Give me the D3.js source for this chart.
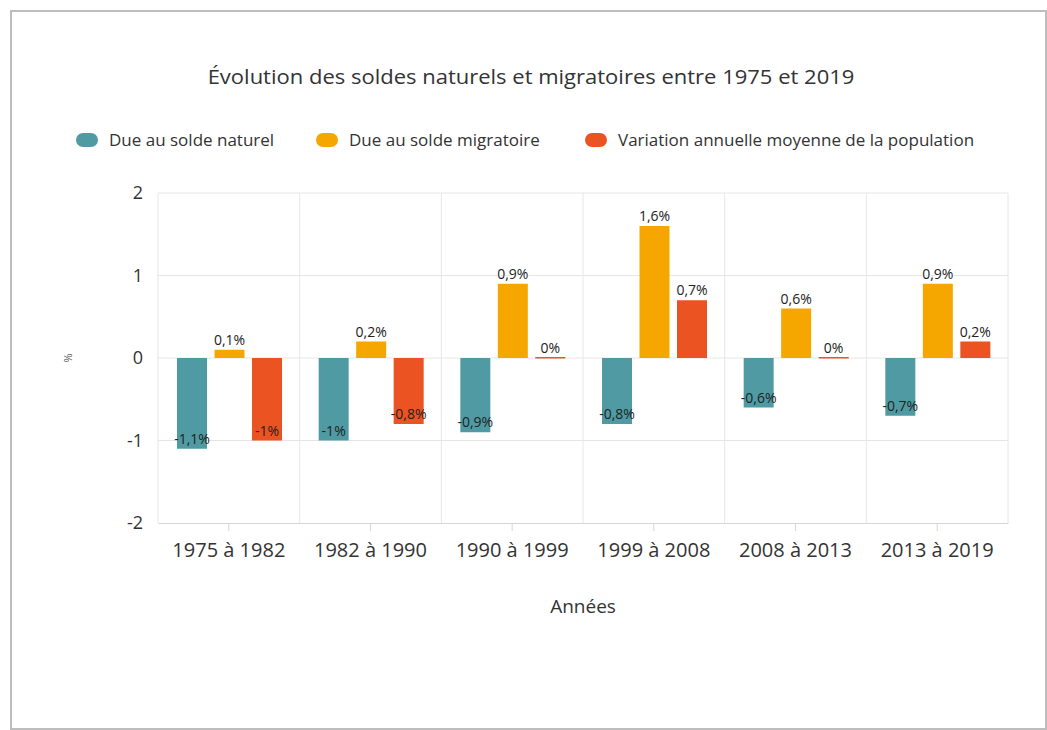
<!DOCTYPE html>
<html lang="fr">
<head>
<meta charset="utf-8">
<title>Soldes naturels et migratoires</title>
<script src="https://d3js.org/d3.v7.min.js"></script>
<style>
  body { margin: 0; background: #fff; }
  svg { font-family: "Open Sans", sans-serif; display: block; }
</style>
</head>
<body>
<script>
// Données
const periodes = ["1975 à 1982", "1982 à 1990", "1990 à 1999", "1999 à 2008", "2008 à 2013", "2013 à 2019"];
const soldeNaturel = [-1.1, -1, -0.9, -0.8, -0.6, -0.7];
const soldeMigratoire = [0.1, 0.2, 0.9, 1.6, 0.6, 0.9];
const variationAnnuelle = [-1, -0.8, 0, 0.7, 0, 0.2];
const seriesNames = ["Due au solde naturel", "Due au solde migratoire", "Variation annuelle moyenne de la population"];
const seriesColors = ["#4f9aa3", "#f5a700", "#ec5323"];
const yTicks = [-2, -1, 0, 1, 2];

const width = 1047, height = 730;
const marginLeft = 158, marginRight = 39, marginTop = 193, plotBottom = 523;

const seriesValues = [soldeNaturel, soldeMigratoire, variationAnnuelle];
const data = periodes.map((p, i) => ({
  periode: p,
  values: seriesNames.map((s, j) => ({ serie: s, idx: j, value: seriesValues[j][i] }))
}));

const svg = d3.select("body").append("svg")
  .attr("width", width)
  .attr("height", height);

// cadre
svg.append("rect")
  .attr("x", 11).attr("y", 11)
  .attr("width", width - 12).attr("height", height - 12)
  .attr("fill", "none")
  .attr("stroke", "#bdbdbd")
  .attr("stroke-width", 2);

const x = d3.scaleBand()
  .domain(periodes)
  .range([marginLeft, width - marginRight]);

const x1 = d3.scaleBand()
  .domain(seriesNames)
  .range([19, 124])
  .paddingInner(0.2);

const y = d3.scaleLinear()
  .domain([-2, 2])
  .range([plotBottom, marginTop]);

const color = d3.scaleOrdinal().domain(seriesNames).range(seriesColors);

// grille horizontale
svg.append("g")
  .selectAll("line")
  .data(yTicks.filter(d => d !== -2))
  .join("line")
  .attr("x1", marginLeft).attr("x2", width - marginRight)
  .attr("y1", d => y(d)).attr("y2", d => y(d))
  .attr("stroke", "#e6e6e6");

// grille verticale (limites des catégories)
const bounds = periodes.map(p => x(p)).concat([width - marginRight]);
svg.append("g")
  .selectAll("line")
  .data(bounds)
  .join("line")
  .attr("x1", d => d).attr("x2", d => d)
  .attr("y1", marginTop).attr("y2", plotBottom)
  .attr("stroke", "#e6e6e6");

// axe Y
svg.append("g")
  .selectAll("text")
  .data(yTicks)
  .join("text")
  .attr("x", 143)
  .attr("y", d => y(d))
  .attr("dy", "0.35em")
  .attr("text-anchor", "end")
  .attr("fill", "#333")
  .style("font-size", "18px")
  .text(d => d);

svg.append("text")
  .attr("transform", `translate(72,${y(0)}) rotate(-90)`)
  .attr("text-anchor", "middle")
  .attr("fill", "#555")
  .style("font-size", "11px")
  .text("%");

// axe X
const xAxis = svg.append("g")
  .attr("transform", `translate(0,${plotBottom})`)
  .call(d3.axisBottom(x).tickSize(8).tickSizeOuter(0).tickPadding(12));
xAxis.select(".domain").attr("stroke", "#d6d6d6");
xAxis.selectAll(".tick line").attr("stroke", "#d6d6d6");
xAxis.selectAll(".tick text")
  .attr("fill", "#333")
  .style("font-size", "20px")
  .style("font-family", "'Open Sans', sans-serif");

svg.append("text")
  .attr("x", (marginLeft + width - marginRight) / 2)
  .attr("y", 613)
  .attr("text-anchor", "middle")
  .attr("fill", "#333")
  .style("font-size", "19px")
  .text("Années");

// barres
const groups = svg.append("g")
  .selectAll("g")
  .data(data)
  .join("g")
  .attr("transform", d => `translate(${x(d.periode)},0)`);

groups.selectAll("rect")
  .data(d => d.values)
  .join("rect")
  .attr("x", d => x1(d.serie))
  .attr("width", x1.bandwidth())
  .attr("y", d => d.value === 0 ? y(0) - 1 : Math.min(y(0), y(d.value)))
  .attr("height", d => d.value === 0 ? 1.5 : Math.abs(y(d.value) - y(0)))
  .attr("fill", d => color(d.serie));

const fmt = v => String(v).replace(".", ",") + "%";

groups.selectAll("text")
  .data(d => d.values)
  .join("text")
  .attr("x", d => x1(d.serie) + x1.bandwidth() / 2)
  .attr("y", d => d.value >= 0 ? y(d.value) - 5 : y(d.value) - 5)
  .attr("text-anchor", "middle")
  .attr("fill", "#222")
  .attr("stroke", d => d.value >= 0 ? "#fff" : "none")
  .attr("stroke-width", 2)
  .attr("paint-order", "stroke")
  .style("font-size", "14px")
  .text(d => fmt(d.value));

// titre
svg.append("text")
  .attr("transform", "translate(531,84) scale(1.1,1)")
  .attr("text-anchor", "middle")
  .attr("fill", "#333")
  .style("font-size", "20px")
  .text("Évolution des soldes naturels et migratoires entre 1975 et 2019");

// légende
const legendX = [76, 316, 585];
const legend = svg.append("g")
  .selectAll("g")
  .data(seriesNames)
  .join("g")
  .attr("transform", (d, i) => `translate(${legendX[i]},133)`);

legend.append("rect")
  .attr("width", 22).attr("height", 14)
  .attr("rx", 7)
  .attr("fill", d => color(d));

legend.append("text")
  .attr("x", 33)
  .attr("y", 7)
  .attr("dy", "0.35em")
  .attr("fill", "#333")
  .style("font-size", "17px")
  .text(d => d);
</script>
</body>
</html>
